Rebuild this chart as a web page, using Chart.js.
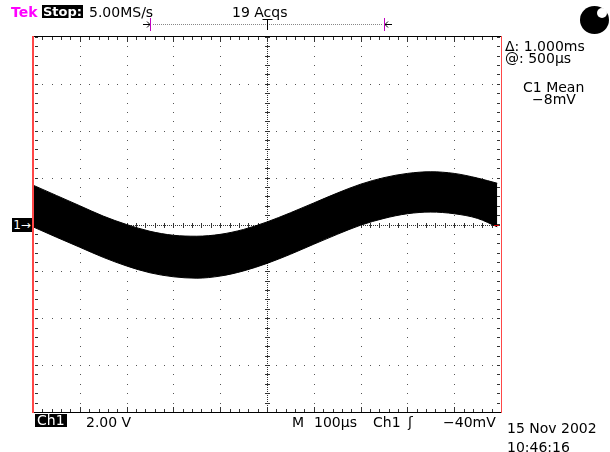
<!DOCTYPE html>
<html>
<head>
<meta charset="utf-8">
<script src="https://cdn.jsdelivr.net/npm/chart.js@4/dist/chart.umd.min.js"></script>
<style>
  body { margin: 0; background: #fff; }
  #wrap { position: relative; width: 610px; height: 452px; overflow: hidden;
          font-family: "DejaVu Sans", sans-serif; font-size: 14px; line-height: 14px; color: #000; }
  #wrap canvas { position: absolute; left: 0; top: 0; }
  .t { position: absolute; white-space: nowrap; }
  .box { position: absolute; background: #000; color: #fff; height: 13px; line-height: 13px; white-space: nowrap; }
</style>
</head>
<body>
<div id="wrap">
  <canvas id="scope" width="610" height="452"></canvas>

  <div class="t" style="left:11px;top:4.5px;color:#ff00ff;font-weight:bold">Tek</div>
  <div class="box" style="left:42px;top:5px;width:41px;font-size:13px;font-weight:bold;text-align:center">Stop:</div>
  <div class="t" style="left:89px;top:4.5px">5.00MS/s</div>
  <div class="t" style="left:232px;top:4.5px">19 Acqs</div>

  <div class="t" style="left:505px;top:38.5px">Δ: 1.000ms</div>
  <div class="t" style="left:505px;top:50.5px">@: 500µs</div>
  <div class="t" style="left:523px;top:79.5px">C1 Mean</div>
  <div class="t" style="left:532px;top:91.5px">−8mV</div>

  <div class="box" style="left:12px;top:218px;width:20px;height:14px;line-height:14px;font-size:12px;text-align:center">1→</div>

  <div class="box" style="left:35px;top:414px;padding:0 2px">Ch1</div>
  <div class="t" style="left:86px;top:414.5px">2.00 V</div>
  <div class="t" style="left:292px;top:414.5px">M</div>
  <div class="t" style="left:314px;top:414.5px">100µs</div>
  <div class="t" style="left:373px;top:414.5px">Ch1</div>
  <div class="t" style="left:408px;top:414.5px">ʃ</div>
  <div class="t" style="left:443px;top:414.5px">−40mV</div>
  <div class="t" style="left:507px;top:420.5px">15 Nov 2002</div>
  <div class="t" style="left:507px;top:439.5px">10:46:16</div>

  <div style="position:absolute;left:580px;top:6px;width:29px;height:28px;border-radius:50%;background:#000"></div>
  <div style="position:absolute;left:597px;top:8px;width:10px;height:10px;border-radius:50%;background:#fff"></div>
</div>

<script>
// Ch1 trace, 100 µs/div, 2 V/div — envelope of the noisy sine
const times  = [0, 50, 100, 150, 200, 250, 300, 350, 400, 450, 500, 550, 600, 650, 700, 750, 800, 850, 900, 950, 992];
const upperV = [1.68, 1.24, 0.80, 0.36, 0.00, -0.29, -0.46, -0.50, -0.42, -0.21, 0.11, 0.50, 0.92, 1.34, 1.72, 2.00, 2.18, 2.25, 2.18, 1.98, 1.76];
const lowerV = [-0.10, -0.54, -0.97, -1.40, -1.77, -2.06, -2.23, -2.29, -2.20, -1.98, -1.66, -1.27, -0.84, -0.42, -0.03, 0.26, 0.46, 0.53, 0.46, 0.26, -0.10];

// screen: 10 x 8 divisions
const xDivs = [0, 100, 200, 300, 400, 500, 600, 700, 800, 900, 1000];
const yDivs = [-8, -6, -4, -2, 0, 2, 4, 6, 8];
const cursorsUs = [250, 750];
const triggerUs = 500;

// graticule + frame, all placed through the chart scales
const graticule = {
  id: "graticule",
  beforeDatasetsDraw(chart) {
    const { ctx, chartArea: a, scales: { x, y } } = chart;
    ctx.save();
    ctx.fillStyle = "#555";
    // dotted lines, one dot every 1/5 division
    xDivs.slice(1, -1).forEach(v => {
      if (v === 500) return;
      const px = Math.round(x.getPixelForValue(v));
      for (let w = -8; w <= 8.001; w += 0.4) ctx.fillRect(px, Math.round(y.getPixelForValue(w)), 1, 1);
    });
    yDivs.slice(1, -1).forEach(v => {
      if (v === 0) return;
      const py = Math.round(y.getPixelForValue(v));
      for (let t = 0; t <= 1000.01; t += 20) ctx.fillRect(Math.round(x.getPixelForValue(t)), py, 1, 1);
    });
    // centre cross: dense dots with minor ticks
    const cx = Math.round(x.getPixelForValue(500)), cy = Math.round(y.getPixelForValue(0));
    ctx.fillStyle = "#333";
    for (let px = a.left; px < a.right; px += 2) ctx.fillRect(px, cy, 1, 1);
    for (let py = a.top; py < a.bottom; py += 2) ctx.fillRect(cx, py, 1, 1);
    for (let t = 0; t <= 1000.01; t += 20) {
      const px = Math.round(x.getPixelForValue(t));
      ctx.fillRect(px, cy - 2, 1, 5);
      ctx.fillRect(px, a.top, 1, 3);
      ctx.fillRect(px, a.bottom - 3, 1, 3);
    }
    for (let w = -8; w <= 8.001; w += 0.4) {
      const py = Math.round(y.getPixelForValue(w));
      ctx.fillRect(cx - 2, py, 5, 1);
      ctx.fillRect(a.left + 2, py, 3, 1);
      ctx.fillRect(a.right - 4, py, 3, 1);
    }
    xDivs.forEach(t => {
      const px = Math.round(x.getPixelForValue(t));
      ctx.fillRect(px, a.top, 1, 5);
      ctx.fillRect(px, a.bottom - 5, 1, 5);
    });
    ctx.restore();
  },
  afterDraw(chart) {
    const { ctx, chartArea: a, scales: { x, y } } = chart;
    ctx.save();
    // frame: black top/bottom, red sides
    ctx.fillStyle = "#000";
    ctx.fillRect(a.left, a.top - 1, a.right - a.left, 1);
    ctx.fillRect(a.left, a.bottom, a.right - a.left, 1);
    ctx.fillStyle = "#ff4848";
    ctx.fillRect(a.left - 1, a.top - 1, 2, a.bottom - a.top + 2);
    ctx.fillRect(a.right, a.top - 1, 1, a.bottom - a.top + 2);

    // small red end-of-record tick on the trace
    const ex = x.getPixelForValue(times[times.length - 1]), ey = y.getPixelForValue(0);
    ctx.fillStyle = "#e00000";
    ctx.fillRect(Math.round(ex) - 3, Math.round(ey), 5, 1);

    // record markers above the screen
    const my = 24;
    const [c1, c2] = cursorsUs.map(t => Math.round(x.getPixelForValue(t)));
    ctx.fillStyle = "#888";
    for (let px = c1 + 3; px < c2 - 2; px += 2) ctx.fillRect(px, my, 1, 1);
    ctx.strokeStyle = "#000";
    ctx.lineWidth = 1;
    ctx.beginPath();
    ctx.moveTo(c1 - 7, my + 0.5); ctx.lineTo(c1, my + 0.5);
    ctx.moveTo(c1 - 3, my - 2.5); ctx.lineTo(c1, my + 0.5); ctx.lineTo(c1 - 3, my + 3.5);
    ctx.moveTo(c2 + 8, my + 0.5); ctx.lineTo(c2 + 1, my + 0.5);
    ctx.moveTo(c2 + 4, my - 2.5); ctx.lineTo(c2 + 1, my + 0.5); ctx.lineTo(c2 + 4, my + 3.5);
    ctx.stroke();
    ctx.strokeStyle = "#c000c0";
    ctx.beginPath();
    ctx.moveTo(c1 + 0.5, my - 6); ctx.lineTo(c1 + 0.5, my + 7);
    ctx.moveTo(c2 + 0.5, my - 6); ctx.lineTo(c2 + 0.5, my + 7);
    ctx.stroke();
    const tx = Math.round(x.getPixelForValue(triggerUs)) + 0.5;
    ctx.strokeStyle = "#000";
    ctx.beginPath();
    ctx.moveTo(tx - 5, my - 4.5); ctx.lineTo(tx + 5, my - 4.5);
    ctx.moveTo(tx, my - 4.5); ctx.lineTo(tx, my + 6);
    ctx.stroke();
    ctx.restore();
  }
};

new Chart(document.getElementById("scope"), {
  type: "line",
  data: {
    datasets: [
      {
        label: "Ch1 max",
        data: times.map((t, i) => ({ x: t, y: upperV[i] })),
        borderColor: "#000", backgroundColor: "#000", borderWidth: 1,
        pointRadius: 0, cubicInterpolationMode: "monotone", fill: "+1"
      },
      {
        label: "Ch1 min",
        data: times.map((t, i) => ({ x: t, y: lowerV[i] })),
        borderColor: "#000", backgroundColor: "#000", borderWidth: 1,
        pointRadius: 0, cubicInterpolationMode: "monotone", fill: false
      }
    ]
  },
  options: {
    responsive: false,
    animation: false,
    devicePixelRatio: 1,
    layout: { padding: { left: 33, top: 37, right: 109, bottom: 40 } },
    scales: {
      x: { type: "linear", min: 0, max: 1000, display: false },
      y: { min: -8, max: 8, display: false }
    },
    plugins: { legend: { display: false }, tooltip: { enabled: false } }
  },
  plugins: [graticule]
});
</script>
</body>
</html>
